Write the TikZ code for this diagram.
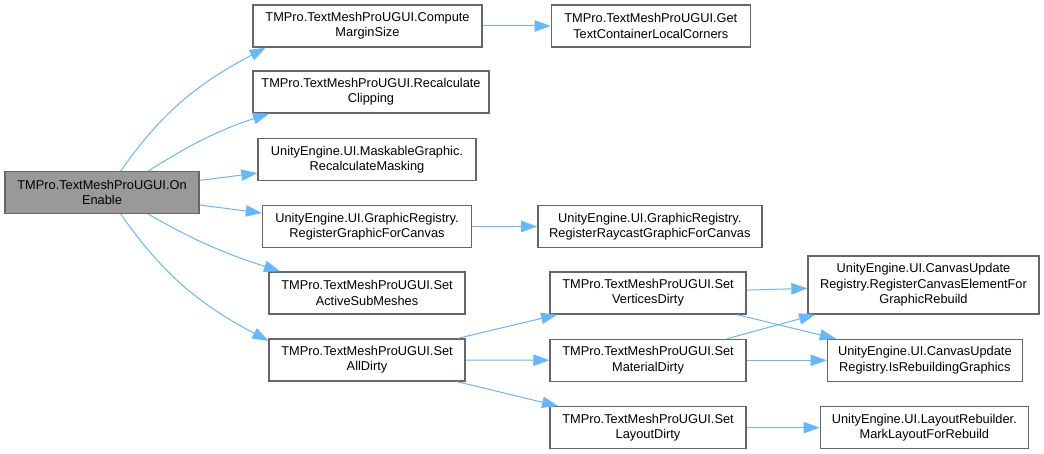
\documentclass[tikz,border=0pt]{standalone}
\usepackage{fontspec}
\setmainfont{Liberation Sans}
\usepackage{tikz}
\usetikzlibrary{positioning}
\usetikzlibrary{arrows.meta}
\definecolor{nodeborder}{HTML}{666666}
\definecolor{rootfill}{HTML}{999999}
\definecolor{callblue}{HTML}{63B8FF}

\begin{document}
\begin{tikzpicture}[x=0.75pt, y=-0.75pt,
    fnbox/.style={draw=nodeborder, line width=1pt, fill=white, align=center, inner sep=0pt,
        minimum height=31.5pt, minimum width=#1*0.75pt, font=\fontsize{9.6}{11.5}\selectfont},
    call/.style={draw=callblue, line width=0.75pt, -{Triangle[length=12pt, width=8.5pt]}}]

    \path[use as bounding box, fill=white] (0,0) rectangle (1044,453);

    \node [fnbox=194, fill=rootfill] (root) at (102,192.5) {TMPro.TextMeshProUGUI.On\\Enable};

    \node [fnbox=229] (cms) at (367.5,26) {TMPro.TextMeshProUGUI.Compute\\MarginSize};
    \node [fnbox=199, right=51pt of cms] (gtc) {TMPro.TextMeshProUGUI.Get\\TextContainerLocalCorners};
    \node [fnbox=236] (rcl) at (371,92) {TMPro.TextMeshProUGUI.Recalculate\\Clipping};
    \node [fnbox=218] (rmask) at (367,159.5) {UnityEngine.UI.MaskableGraphic.\\RecalculateMasking};
    \node [fnbox=209] (rgc) at (367,226.5) {UnityEngine.UI.GraphicRegistry.\\RegisterGraphicForCanvas};
    \node [fnbox=224, right=48.75pt of rgc] (rrg) {UnityEngine.UI.GraphicRegistry.\\RegisterRaycastGraphicForCanvas};
    \node [fnbox=196] (ras) at (367,293) {TMPro.TextMeshProUGUI.Set\\ActiveSubMeshes};
    \node [fnbox=196] (sad) at (367,360) {TMPro.TextMeshProUGUI.Set\\AllDirty};

    \node [fnbox=196] (svd) at (648,293) {TMPro.TextMeshProUGUI.Set\\VerticesDirty};
    \node [fnbox=196, below=18pt of svd] (smd) {TMPro.TextMeshProUGUI.Set\\MaterialDirty};
    \node [fnbox=196, below=18pt of smd] (sld) {TMPro.TextMeshProUGUI.Set\\LayoutDirty};

    \node [fnbox=231, minimum height=43.5pt] (rce) at (923.5,285) {UnityEngine.UI.CanvasUpdate\\Registry.RegisterCanvasElementFor\\GraphicRebuild};
    \node [fnbox=195, right=60pt of smd] (irg) {UnityEngine.UI.CanvasUpdate\\Registry.IsRebuildingGraphics};
    \node [fnbox=208, right=54.75pt of sld] (mlr) {UnityEngine.UI.LayoutRebuilder.\\MarkLayoutForRebuild};

    % calls out of OnEnable
    \draw [call] (root.49) to[out=55, in=208] (cms.192);
    \draw [call] (root.25) to[out=32, in=198] (rcl.192);
    \draw [call] (root) -- (rmask);
    \draw [call] (root) -- (rgc);
    \draw [call] (root.-25) to[out=-30, in=162] (ras.166);
    \draw [call] (root.-49) to[out=-55, in=152] (sad.169);

    \draw [call] (cms) -- (gtc);
    \draw [call] (rgc) -- (rrg);

    \draw [call] (sad) -- (svd);
    \draw [call] (sad) -- (smd);
    \draw [call] (sad) -- (sld);

    \draw [call] (svd) -- (rce);
    \draw [call] (svd) -- (irg);
    \draw [call] (smd) -- (rce);
    \draw [call] (smd) -- (irg);
    \draw [call] (sld) -- (mlr);

\end{tikzpicture}
\end{document}
